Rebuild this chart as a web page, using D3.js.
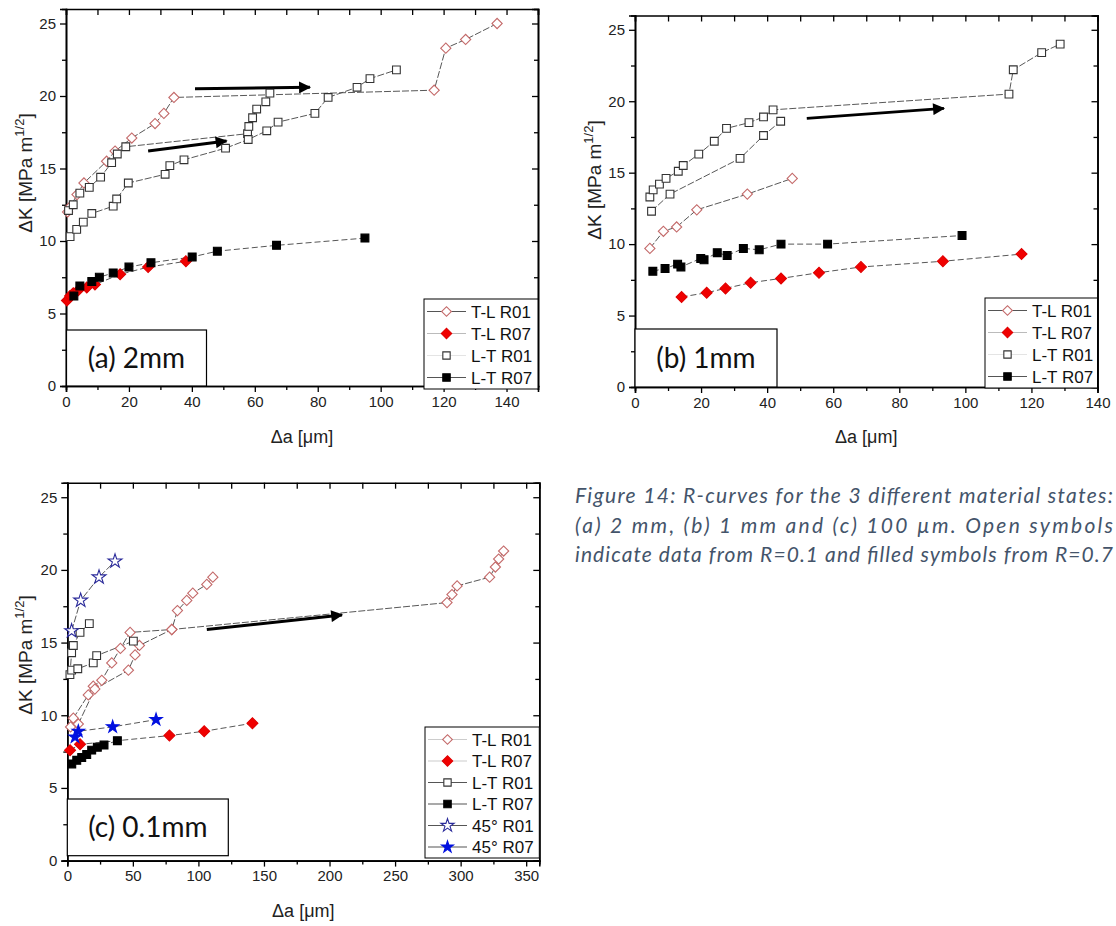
<!DOCTYPE html>
<html>
<head>
<meta charset="utf-8">
<script src="https://cdn.jsdelivr.net/npm/d3@7"></script>
<style>
  body { margin: 0; background: #fff; }
</style>
</head>
<body>
<svg id="chart" width="1116" height="926" font-family="Liberation Sans, Arial, sans-serif"></svg>
<script>
// ---- data: [delta a (um), delta K (MPa m^1/2)] ----
// panel (a) 2mm
const a_TL_R01 = [[0.5,12.0],[1.5,12.4],[3.5,13.2],[5.7,14.0],[12.9,15.5],[15.6,16.2],[20.9,17.1],[28.3,18.1],[31.1,18.8],[34.3,19.9],[117,20.4],[120.7,23.3],[127,23.9],[137,25.0]];
const a_TL_R07 = [[0.3,5.9],[1.3,6.2],[2.3,6.4],[3.9,6.6],[6.6,6.8],[9.2,7.0],[17.2,7.7],[26.1,8.2],[38.1,8.6]];
const a_LT_R01_s1 = [[0.8,12.1],[2.3,12.5],[4.4,13.3],[7.4,13.7],[11.0,14.4],[14.5,15.4],[16.3,16.0],[19.0,16.5],[57.7,17.4],[58.1,17.9],[59.3,18.5],[60.6,19.1],[63.5,19.6],[64.8,20.2]];
const a_LT_R01_s2 = [[1.3,10.3],[3.4,10.8],[5.5,11.3],[8.2,11.9],[15.0,12.4],[16.1,12.9],[19.8,14.0],[31.5,14.6],[33.0,15.2],[37.5,15.6],[50.7,16.4],[57.9,17.0],[63.8,17.6],[67.4,18.2],[79.1,18.8],[83.3,19.9],[92.5,20.6],[96.6,21.2],[105,21.8]];
const a_LT_R07 = [[2.5,6.2],[4.4,6.9],[8.2,7.2],[10.6,7.5],[15.0,7.8],[20.0,8.2],[27.0,8.5],[40.1,8.9],[48.1,9.3],[66.9,9.7],[95,10.2]];
const a_arrows = [[[41,20.5],[77.5,20.6]],[[26.1,16.2],[51,16.9]]];

// panel (b) 1mm
const b_TL_R01 = [[4.5,9.7],[8.6,10.9],[12.6,11.2],[18.7,12.4],[34.0,13.5],[47.6,14.6]];
const b_TL_R07 = [[14.1,6.3],[21.7,6.6],[27.4,6.9],[35.0,7.3],[44.2,7.6],[55.7,8.0],[68.4,8.4],[93.2,8.8],[117,9.3]];
const b_LT_R01_s1 = [[4.5,13.3],[5.5,13.8],[7.4,14.2],[9.4,14.6],[13.1,15.1],[14.6,15.5],[19.3,16.3],[24.0,17.2],[27.7,18.1],[34.5,18.5],[38.9,18.9],[41.8,19.4],[113.2,20.5],[114.5,22.2],[123.1,23.4],[128.7,24.0]];
const b_LT_R01_s2 = [[5.0,12.3],[10.6,13.5],[31.8,16.0],[38.9,17.6],[44.1,18.6]];
const b_LT_R07 = [[5.4,8.1],[9.1,8.3],[12.9,8.6],[13.9,8.4],[19.9,9.0],[20.9,8.9],[24.9,9.4],[27.9,9.2],[32.8,9.7],[37.6,9.6],[44.2,10.0],[58.3,10.0],[99,10.6]];
const b_arrows = [[[52,18.8],[93.5,19.5]]];

// panel (c) 0.1mm
const c_TL_R01_s1 = [[2.5,9.2],[4.6,9.8],[16.0,11.4],[19.8,12.0],[26.3,12.4],[33.9,13.6],[40.5,14.6],[47.9,15.7],[79.7,15.9],[289.6,17.75],[293.4,18.3],[297.3,18.9],[322.1,19.5],[326.5,20.2],[329,20.75],[332.8,21.3]];
const c_TL_R01_s2 = [[8.4,9.4],[21,11.8],[46.6,13.1],[51.7,14.15],[55,14.8],[79.7,15.9],[84,17.2],[91.1,17.9],[95.7,18.4],[106.4,19.0],[111,19.5]];
const c_TL_R07 = [[2.1,7.6],[9.7,8.0],[77.9,8.6],[104.4,8.9],[141.2,9.45]];
const c_LT_R01_s1 = [[2.0,12.8],[3.3,14.3],[4.6,14.8],[9.7,15.7],[16.8,16.3]];
const c_LT_R01_s2 = [[3.3,13.1],[8,13.2],[19.8,13.6],[22.4,14.1],[50.4,15.1]];
const c_LT_R07 = [[3.4,6.65],[7.2,6.9],[11,7.1],[14.8,7.3],[18.6,7.6],[22.9,7.8],[28.0,7.95],[38.2,8.25]];
const c_45_R01 = [[3.3,15.8],[10.2,17.9],[24.2,19.5],[36.4,20.6]];
const c_45_R07 = [[5.9,8.5],[8.4,8.9],[34.6,9.2],[67.7,9.7]];
const c_arrows = [[[106.4,15.9],[209.5,16.9]]];

const yTicks = [0, 5, 10, 15, 20, 25];
const xTicksAB = [0, 20, 40, 60, 80, 100, 120, 140];
const xTicksC = [0, 50, 100, 150, 200, 250, 300, 350];

const captionLines = [
  "Figure 14: R-curves for the 3 different material states:",
  "(a) 2 mm, (b) 1 mm and (c) 100 \u00b5m. Open symbols",
  "indicate data from R=0.1 and filled symbols from R=0.7"
];

// marker styles
const styles = {
  "T-L R01": { sym: d3.symbolSquare, size: 52, rot: 45, fill: "#fff", stroke: "#c46a6a" },
  "T-L R07": { sym: d3.symbolSquare, size: 60, rot: 45, fill: "#f00000", stroke: "#e00000" },
  "L-T R01": { sym: d3.symbolSquare, size: 60, rot: 0, fill: "#fff", stroke: "#333" },
  "L-T R07": { sym: d3.symbolSquare, size: 62, rot: 0, fill: "#000", stroke: "#000" },
  "45\u00b0 R01": { sym: d3.symbolStar, size: 60, rot: 0, fill: "#fff", stroke: "#2a2a9a" },
  "45\u00b0 R07": { sym: d3.symbolStar, size: 48, rot: 0, fill: "#0010e0", stroke: "#0010e0" }
};

const panels = [
  { left: 66, right: 538, top: 9, bottom: 386, xmax: 150, xTicks: xTicksAB, xMinor: 10, label: "(a) 2mm",
    box: [66.5, 330, 140], yTitle: [32, 173], xTitleY: 443,
    series: [["T-L R01", a_TL_R01], ["T-L R07", a_TL_R07], ["L-T R01", a_LT_R01_s1], ["L-T R01", a_LT_R01_s2], ["L-T R07", a_LT_R07]],
    legend: { x: 424, y: 299, rows: ["T-L R01", "T-L R07", "L-T R01", "L-T R07"], lines: ["#555", "#bbb", "#e4e4e4", "#555"] },
    arrows: a_arrows },
  { left: 635, right: 1097.5, top: 15.5, bottom: 387, xmax: 140, xTicks: xTicksAB, xMinor: 10, label: "(b) 1mm",
    box: [635, 329, 142], yTitle: [601, 180], xTitleY: 443,
    series: [["T-L R01", b_TL_R01], ["T-L R07", b_TL_R07], ["L-T R01", b_LT_R01_s1], ["L-T R01", b_LT_R01_s2], ["L-T R07", b_LT_R07]],
    legend: { x: 985, y: 298, rows: ["T-L R01", "T-L R07", "L-T R01", "L-T R07"], lines: ["#555", "#bbb", "#e4e4e4", "#555"] },
    arrows: b_arrows },
  { left: 67.3, right: 539.3, top: 482.7, bottom: 860.6, xmax: 360, xTicks: xTicksC, xMinor: 25, label: "(c) 0.1mm",
    box: [67.3, 799, 161, 56.7], yTitle: [32, 655], xTitleY: 917,
    series: [["T-L R01", c_TL_R01_s1], ["T-L R01", c_TL_R01_s2], ["T-L R07", c_TL_R07], ["L-T R01", c_LT_R01_s1], ["L-T R01", c_LT_R01_s2], ["L-T R07", c_LT_R07], ["45\u00b0 R01", c_45_R01], ["45\u00b0 R07", c_45_R07]],
    legend: { x: 425, y: 727, rows: ["T-L R01", "T-L R07", "L-T R01", "L-T R07", "45\u00b0 R01", "45\u00b0 R07"], lines: ["#ccc", "#ccc", "#555", "#555", "#555", "#555"] },
    arrows: c_arrows }
];

const svg = d3.select("#chart");

svg.append("defs").append("marker")
  .attr("id", "arrowhead")
  .attr("viewBox", "0 0 10 10")
  .attr("refX", 9).attr("refY", 5)
  .attr("markerUnits", "userSpaceOnUse")
  .attr("markerWidth", 18).attr("markerHeight", 12)
  .attr("orient", "auto")
  .append("path")
  .attr("d", "M0,0 L10,5 L0,10 Z")
  .attr("fill", "#000");

function drawPanel(p) {
  const x = d3.scaleLinear().domain([0, p.xmax]).range([p.left, p.right]);
  const y = d3.scaleLinear().domain([0, 26]).range([p.bottom, p.top]);
  const g = svg.append("g");

  const xMinor = d3.range(0, p.xmax + 0.01, p.xMinor).filter(v => !p.xTicks.includes(v));
  const yMinor = d3.range(2.5, 26, 5);

  // bottom + left: outward ticks with labels
  g.append("g").attr("transform", `translate(0,${p.bottom})`)
    .call(d3.axisBottom(x).tickValues(p.xTicks).tickSize(6).tickPadding(4).tickFormat(d3.format("d")));
  g.append("g").attr("transform", `translate(0,${p.bottom})`)
    .call(d3.axisBottom(x).tickValues(xMinor).tickSize(4).tickFormat(""));
  g.append("g").attr("transform", `translate(${p.left},0)`)
    .call(d3.axisLeft(y).tickValues(yTicks).tickSize(6).tickPadding(4));
  g.append("g").attr("transform", `translate(${p.left},0)`)
    .call(d3.axisLeft(y).tickValues(yMinor).tickSize(4).tickFormat(""));
  // top + right: inward ticks, no labels
  g.append("g").attr("transform", `translate(0,${p.top})`)
    .call(d3.axisTop(x).tickValues(p.xTicks.concat(xMinor)).tickSize(-6).tickFormat(""));
  g.append("g").attr("transform", `translate(${p.right},0)`)
    .call(d3.axisRight(y).tickValues(yTicks).tickSize(-6).tickFormat(""));
  g.append("g").attr("transform", `translate(${p.right},0)`)
    .call(d3.axisRight(y).tickValues(yMinor).tickSize(-4).tickFormat(""));

  g.selectAll(".domain").attr("stroke", "#000").attr("stroke-width", 1.6);
  g.selectAll(".tick line").attr("stroke", "#000").attr("stroke-width", 1.3);
  g.selectAll(".tick text").attr("font-size", 15).attr("fill", "#222")
    .attr("font-family", "Liberation Sans, Arial, sans-serif");

  // axis titles
  const yt = g.append("text")
    .attr("transform", `translate(${p.yTitle[0]},${p.yTitle[1]}) rotate(-90)`)
    .attr("text-anchor", "middle").attr("font-size", 19).attr("fill", "#222");
  yt.append("tspan").text("\u0394K [MPa m");
  yt.append("tspan").attr("dy", -8).attr("font-size", 13).text("1/2");
  yt.append("tspan").attr("dy", 8).text("]");

  g.append("text")
    .attr("x", (p.left + p.right) / 2).attr("y", p.xTitleY)
    .attr("text-anchor", "middle").attr("font-size", 18).attr("fill", "#222")
    .text("\u0394a [\u03bcm]");

  // connecting lines
  const line = d3.line().x(d => x(d[0])).y(d => y(d[1]));
  p.series.forEach(([name, data]) => {
    g.append("path")
      .datum(data)
      .attr("d", line)
      .attr("fill", "none")
      .attr("stroke", "#444")
      .attr("stroke-width", 0.9)
      .attr("stroke-dasharray", name.indexOf("R07") > 0 ? "6,3" : "7,2");
  });

  // arrows
  p.arrows.forEach(a => {
    g.append("line")
      .attr("x1", x(a[0][0])).attr("y1", y(a[0][1]))
      .attr("x2", x(a[1][0])).attr("y2", y(a[1][1]))
      .attr("stroke", "#000").attr("stroke-width", 3)
      .attr("marker-end", "url(#arrowhead)");
  });

  // markers
  p.series.forEach(([name, data]) => {
    const s = styles[name];
    g.append("g").selectAll("path")
      .data(data)
      .enter()
      .append("path")
      .attr("d", d3.symbol().type(s.sym).size(s.size))
      .attr("transform", d => `translate(${x(d[0])},${y(d[1])}) rotate(${s.rot})`)
      .attr("fill", s.fill)
      .attr("stroke", s.stroke)
      .attr("stroke-width", 1.1);
  });

  // panel label box
  const bh = p.box[3] || (p.bottom - p.box[1]);
  g.append("rect")
    .attr("x", p.box[0]).attr("y", p.box[1])
    .attr("width", p.box[2]).attr("height", bh)
    .attr("fill", "#fff").attr("stroke", "#000").attr("stroke-width", 1.2);
  g.append("text")
    .attr("x", p.box[0] + p.box[2] / 2).attr("y", p.box[1] + bh / 2 + 10)
    .attr("text-anchor", "middle")
    .style("font-family", "Lato, 'Open Sans', sans-serif")
    .attr("font-size", 28).attr("fill", "#111")
    .text(p.label);

  // legend
  const L = p.legend;
  const rowH = p.legend.rows.length > 4 ? 21.5 : 22;
  const legH = rowH * L.rows.length + 2;
  const lg = g.append("g").attr("transform", `translate(${L.x},${L.y})`);
  lg.append("rect")
    .attr("width", p.right - L.x).attr("height", legH)
    .attr("fill", "#fff").attr("stroke", "#000").attr("stroke-width", 1);
  const items = lg.selectAll(".item")
    .data(L.rows)
    .enter()
    .append("g")
    .attr("transform", (d, i) => `translate(0,${12.5 + i * rowH})`);
  items.append("line")
    .attr("x1", 3).attr("x2", 42)
    .attr("stroke", (d, i) => L.lines[i]).attr("stroke-width", 1.2);
  items.append("path")
    .attr("d", d => d3.symbol().type(styles[d].sym).size(styles[d].size * 0.9)())
    .attr("transform", d => `translate(22.5,0) rotate(${styles[d].rot})`)
    .attr("fill", d => styles[d].fill)
    .attr("stroke", d => styles[d].stroke)
    .attr("stroke-width", 1.1);
  items.append("text")
    .attr("x", 47).attr("y", 6)
    .attr("font-size", 17).attr("fill", "#111")
    .text(d => d);
}

panels.forEach(drawPanel);

// caption
svg.append("g").selectAll("text")
  .data(captionLines)
  .enter()
  .append("text")
  .attr("x", 575)
  .attr("y", (d, i) => 503 + i * 29.5)
  .style("font-family", "Lato, 'Open Sans', sans-serif")
  .style("font-style", "italic")
  .style("font-size", "21px")
  .attr("fill", "#44546a")
  .attr("textLength", 538)
  .attr("lengthAdjust", "spacing")
  .text(d => d);
</script>
</body>
</html>
